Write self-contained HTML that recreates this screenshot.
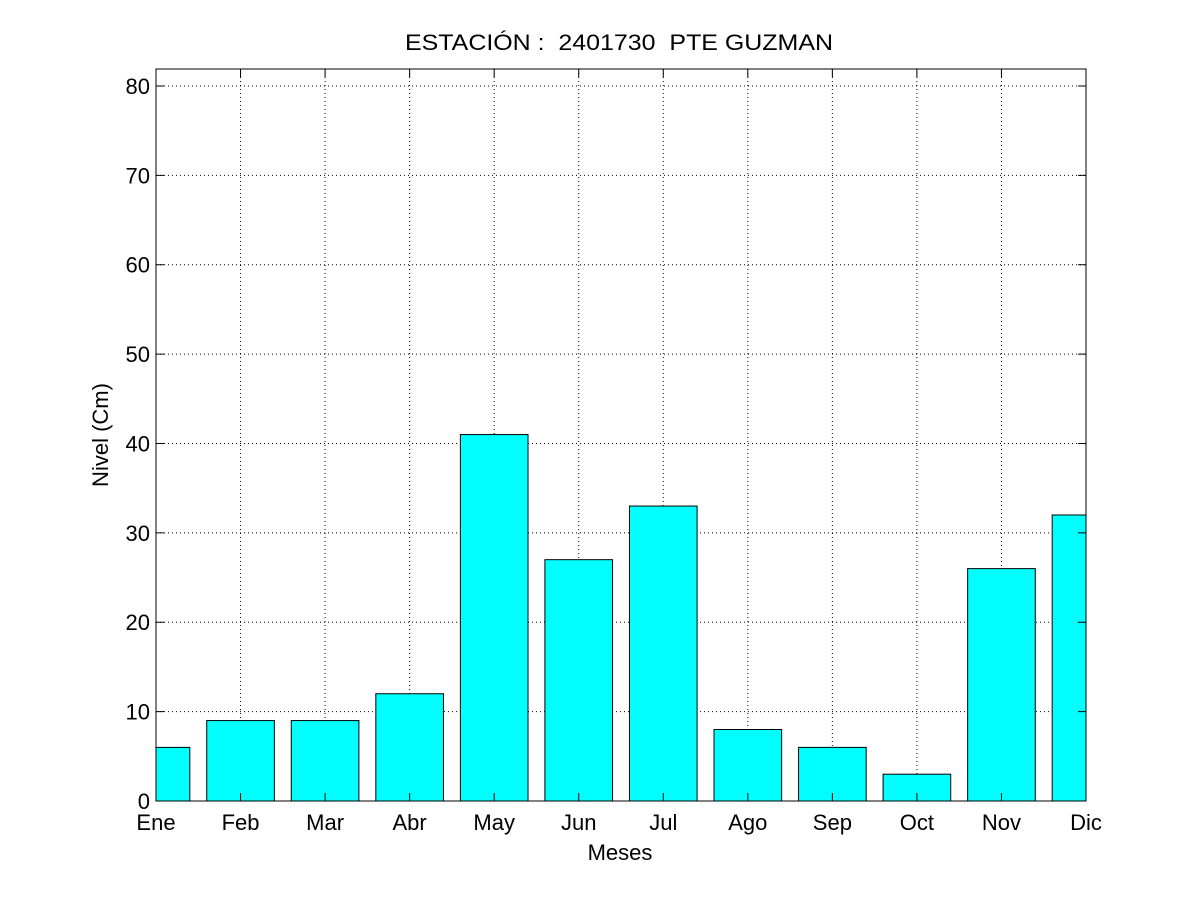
<!DOCTYPE html>
<html><head><meta charset="utf-8"><style>
body{margin:0;background:#fff;}
svg{display:block;font-family:"Liberation Sans",sans-serif;}
text{white-space:pre;}
</style></head><body>
<svg id="chart" width="1200" height="900">
<rect x="0" y="0" width="1200" height="900" fill="#fff"/>
<g id="grid"></g><g id="bars"></g><g id="axes"></g>
<text x="405" y="50" font-size="22" textLength="428" lengthAdjust="spacingAndGlyphs" xml:space="preserve">ESTACIÓN :  2401730  PTE GUZMAN</text>
<text x="620" y="860" font-size="22" text-anchor="middle">Meses</text>
<text x="0" y="0" font-size="22" text-anchor="middle" transform="translate(108,435) rotate(-90)">Nivel (Cm)</text>
</svg>
<script>
const categories=["Ene","Feb","Mar","Abr","May","Jun","Jul","Ago","Sep","Oct","Nov","Dic"];
const values=[6,9,9,12,41,27,33,8,6,3,26,32];
const yTicks=[0,10,20,30,40,50,60,70,80];
const L=156,R=1086,T=69,B=801,YMAX=81.9;
const NS="http://www.w3.org/2000/svg";
const xs=i=>L+(i)*(R-L)/(categories.length-1);
const ys=v=>B-v*(B-T)/YMAX;
function mk(tag,attrs,parent){const e=document.createElementNS(NS,tag);for(const k in attrs)e.setAttribute(k,attrs[k]);document.getElementById(parent).appendChild(e);return e;}
const bw=0.8*(R-L)/(categories.length-1);
values.forEach((v,i)=>{
  let x0=Math.max(L,xs(i)-bw/2),x1=Math.min(R,xs(i)+bw/2);
  const r=mk('rect',{x:x0,y:ys(v),width:x1-x0,height:B-ys(v),fill:'#00ffff',stroke:'#000','stroke-width':1},'bars');
  
  
});
categories.forEach((c,i)=>{
  const x=xs(i);
  if(i>0&&i<categories.length-1){const g=mk('line',{x1:x,x2:x,y1:T,y2:B,stroke:'#000','stroke-width':1,'stroke-dasharray':'1,3'},'grid');
  }
  mk('line',{x1:x,x2:x,y1:B,y2:B-8,stroke:'#000'},'axes');
  mk('line',{x1:x,x2:x,y1:T,y2:T+8,stroke:'#000'},'axes');
  const t=mk('text',{x:x,y:B+29,'font-size':22,'text-anchor':'middle'},'axes');t.textContent=c;
  
});
yTicks.forEach(v=>{
  const y=ys(v);
  if(v>0){const g=mk('line',{x1:L,x2:R,y1:y,y2:y,stroke:'#000','stroke-width':1,'stroke-dasharray':'1,3'},'grid');
  }
  mk('line',{x1:L,x2:L+8,y1:y,y2:y,stroke:'#000'},'axes');
  mk('line',{x1:R,x2:R-8,y1:y,y2:y,stroke:'#000'},'axes');
  const t=mk('text',{x:L-6,y:y+8,'font-size':22,'text-anchor':'end'},'axes');t.textContent=v;
  
});
const box=mk('rect',{x:L,y:T,width:R-L,height:B-T,fill:'none',stroke:'#000'},'axes');

</script>
</body></html>
